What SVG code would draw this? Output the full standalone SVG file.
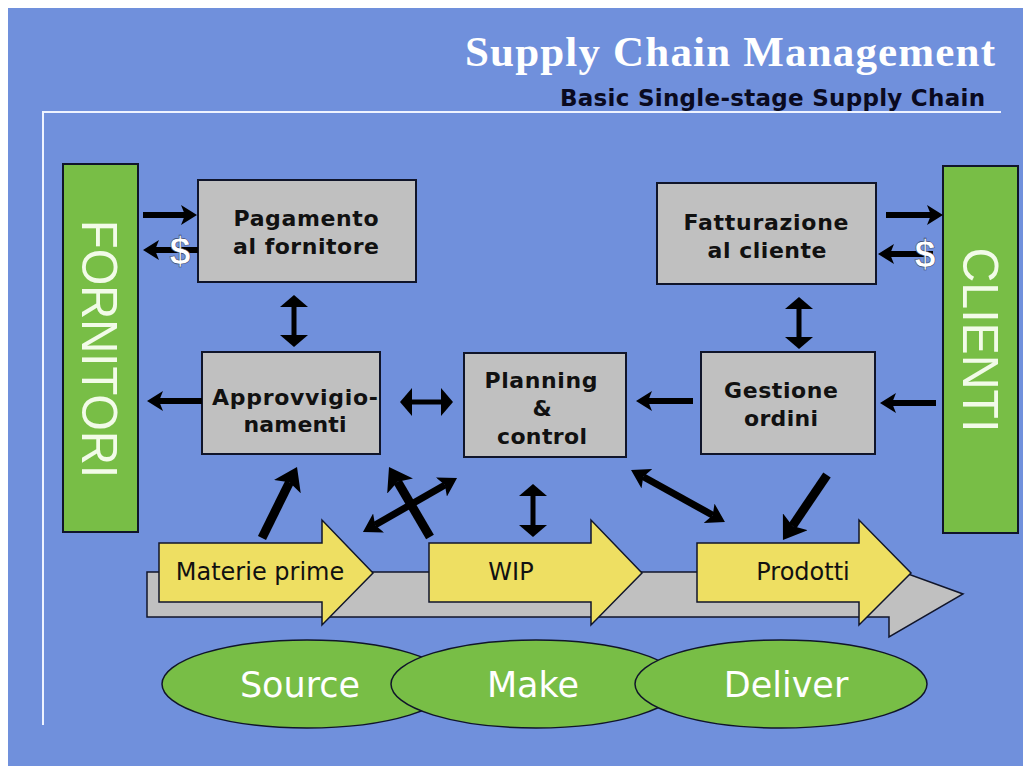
<svg xmlns="http://www.w3.org/2000/svg" width="1023" height="766" viewBox="0 0 1023 766">
  <style>
    .bg { fill: #7090dc; }
    .frame { stroke: #eef3ff; stroke-width: 2; fill: none; }
    .bar { fill: #78be46; stroke: #10152a; stroke-width: 2; }
    .bar-label { font-family: "Liberation Sans", Arial, sans-serif; font-size: 50px; fill: #f2fbe8; text-anchor: middle; }
    .box { fill: #c0c0c0; stroke: #10152a; stroke-width: 2; }
    .box-label { font-family: "DejaVu Sans", Verdana, sans-serif; font-weight: bold; font-size: 22px; fill: #111; text-anchor: middle; }
    .flow { fill: #eedf62; stroke: #10152a; stroke-width: 1.5; stroke-linejoin: miter; }
    .band { fill: #c0c0c0; stroke: #10152a; stroke-width: 1.5; }
    .flow-label { font-family: "DejaVu Sans", Verdana, sans-serif; font-size: 24px; fill: #111; text-anchor: middle; }
    .phase { fill: #78be46; stroke: #10152a; stroke-width: 1.5; }
    .phase-label { font-family: "DejaVu Sans", Verdana, sans-serif; font-size: 35px; fill: #ffffff; text-anchor: middle; }
    .title { font-family: "Liberation Serif", "Times New Roman", serif; font-weight: bold; font-size: 43px; fill: #ffffff; text-anchor: end; }
    .subtitle { font-family: "DejaVu Sans", Verdana, sans-serif; font-weight: bold; font-size: 23px; fill: #0a0a20; text-anchor: end; }
    .money { font-family: "Liberation Sans", Arial, sans-serif; font-weight: bold; font-size: 38px; fill: #ffffff; stroke: #30406a; stroke-width: 0.6; text-anchor: middle; }
    .ln { stroke: #000; fill: none; }
    .w5 { stroke-width: 5; }
    .w6 { stroke-width: 6; }
    .w7 { stroke-width: 7; }
    .w9 { stroke-width: 9; }
  </style>
  <defs>
    <!-- notched head for the standard horizontal flows -->
    <marker id="ah" markerUnits="userSpaceOnUse" viewBox="0 0 16 20" markerWidth="16" markerHeight="20" refX="4" refY="10" orient="auto-start-reverse">
      <path d="M0,0 L16,10 L0,20 L4,10 z" fill="#000"/>
    </marker>
    <!-- flat head for the short two-way links -->
    <marker id="av" markerUnits="userSpaceOnUse" viewBox="0 0 12 28" markerWidth="12" markerHeight="28" refX="1" refY="14" orient="auto-start-reverse">
      <path d="M0,0 L12,14 L0,28 z" fill="#000"/>
    </marker>
    <!-- large head for the heavy diagonal flows -->
    <marker id="ab" markerUnits="userSpaceOnUse" viewBox="0 0 22 30" markerWidth="22" markerHeight="30" refX="5" refY="15" orient="auto-start-reverse">
      <path d="M0,0 L22,15 L0,30 L5,15 z" fill="#000"/>
    </marker>
    <!-- medium head for the diagonal two-way links -->
    <marker id="ad" markerUnits="userSpaceOnUse" viewBox="0 0 18 22" markerWidth="18" markerHeight="22" refX="4" refY="11" orient="auto-start-reverse">
      <path d="M0,0 L18,11 L0,22 L4,11 z" fill="#000"/>
    </marker>
  </defs>

  <!-- background and frame -->
  <rect class="bg" x="8" y="8" width="1015" height="758"/>
  <path class="frame" d="M1001,112 H43 V725"/>

  <g id="header">
    <text class="title" x="995" y="66" textLength="530" lengthAdjust="spacing">Supply Chain Management</text>
    <text class="subtitle" x="985" y="106" textLength="425" lengthAdjust="spacing">Basic Single-stage Supply Chain</text>
  </g>

  <g id="fornitori">
    <rect class="bar" x="63" y="164" width="75" height="368"/>
    <text class="bar-label" transform="translate(82,349) rotate(90)" x="0" y="0" textLength="258" lengthAdjust="spacingAndGlyphs">FORNITORI</text>
  </g>

  <g id="clienti">
    <rect class="bar" x="943" y="166" width="75" height="367"/>
    <text class="bar-label" transform="translate(963,340) rotate(90)" x="0" y="0" textLength="185" lengthAdjust="spacingAndGlyphs">CLIENTI</text>
  </g>

  <g id="pagamento">
    <rect class="box" x="198" y="180" width="218" height="102"/>
    <text class="box-label" x="306" y="226" textLength="145" lengthAdjust="spacing">Pagamento</text>
    <text class="box-label" x="306" y="254" textLength="146" lengthAdjust="spacing">al fornitore</text>
  </g>

  <g id="fatturazione">
    <rect class="box" x="657" y="183" width="219" height="101"/>
    <text class="box-label" x="766" y="230" textLength="165" lengthAdjust="spacing">Fatturazione</text>
    <text class="box-label" x="767" y="258" textLength="119" lengthAdjust="spacing">al cliente</text>
  </g>

  <g id="approvvigionamenti">
    <rect class="box" x="202" y="352" width="178" height="102"/>
    <text class="box-label" x="295" y="405" textLength="166" lengthAdjust="spacing">Approvvigio-</text>
    <text class="box-label" x="295" y="432" textLength="103" lengthAdjust="spacing">namenti</text>
  </g>

  <g id="planning">
    <rect class="box" x="464" y="353" width="162" height="104"/>
    <text class="box-label" x="541" y="388" textLength="113" lengthAdjust="spacing">Planning</text>
    <text class="box-label" x="542" y="416">&amp;</text>
    <text class="box-label" x="542" y="444" textLength="90" lengthAdjust="spacing">control</text>
  </g>

  <g id="gestione">
    <rect class="box" x="701" y="352" width="174" height="102"/>
    <text class="box-label" x="781" y="398" textLength="114" lengthAdjust="spacing">Gestione</text>
    <text class="box-label" x="781" y="426" textLength="74" lengthAdjust="spacing">ordini</text>
  </g>

  <!-- material flow band -->
  <g id="flusso">
    <polygon class="band" points="147,572 889,572 889,567 963,594 889,637 889,617 147,617"/>
  </g>

  <g id="materie-prime">
    <polygon class="flow" points="159,543 322,543 322,520 373,573 322,625 322,602 159,602"/>
    <text class="flow-label" x="260" y="580">Materie prime</text>
  </g>

  <g id="wip">
    <polygon class="flow" points="429,543 591,543 591,520 642,573 591,625 591,602 429,602"/>
    <text class="flow-label" x="511" y="580">WIP</text>
  </g>

  <g id="prodotti">
    <polygon class="flow" points="697,543 859,543 859,520 911,573 859,625 859,602 697,602"/>
    <text class="flow-label" x="803" y="580">Prodotti</text>
  </g>

  <g id="connectors">
    <!-- supplier side -->
    <line class="ln w6" x1="143" y1="215" x2="185" y2="215" marker-end="url(#ah)"/>
    <line class="ln w6" x1="198" y1="250" x2="155" y2="250" marker-end="url(#ah)"/>
    <text class="money" x="180" y="264">$</text>
    <line class="ln w5" x1="294" y1="306" x2="294" y2="336" marker-start="url(#av)" marker-end="url(#av)"/>
    <line class="ln w6" x1="202" y1="401" x2="159" y2="401" marker-end="url(#ah)"/>
    <line class="ln w5" x1="411" y1="402" x2="442" y2="402" marker-start="url(#av)" marker-end="url(#av)"/>

    <!-- customer side -->
    <line class="ln w6" x1="886" y1="215" x2="931" y2="215" marker-end="url(#ah)"/>
    <line class="ln w6" x1="933" y1="254" x2="890" y2="254" marker-end="url(#ah)"/>
    <text class="money" x="925" y="267">$</text>
    <line class="ln w5" x1="799" y1="308" x2="799" y2="338" marker-start="url(#av)" marker-end="url(#av)"/>
    <line class="ln w6" x1="936" y1="403" x2="892" y2="403" marker-end="url(#ah)"/>
    <line class="ln w6" x1="693" y1="401" x2="648" y2="401" marker-end="url(#ah)"/>

    <!-- links to the material flow -->
    <line class="ln w9" x1="262" y1="538" x2="289.5" y2="482.2" marker-end="url(#ab)"/>
    <line class="ln w9" x1="430" y1="537" x2="397.6" y2="481.7" marker-end="url(#ab)"/>
    <line class="ln w7" x1="375.1" y1="525" x2="444.9" y2="485" marker-start="url(#ad)" marker-end="url(#ad)"/>
    <line class="ln w5" x1="533" y1="495" x2="533" y2="526" marker-start="url(#av)" marker-end="url(#av)"/>
    <line class="ln w7" x1="643.3" y1="476.8" x2="712.7" y2="515.2" marker-start="url(#ad)" marker-end="url(#ad)"/>
    <line class="ln w9" x1="827" y1="475" x2="792.5" y2="525.9" marker-end="url(#ab)"/>
  </g>

  <g id="source">
    <ellipse class="phase" cx="307" cy="684" rx="145" ry="44"/>
    <text class="phase-label" x="300" y="697">Source</text>
  </g>

  <g id="make">
    <ellipse class="phase" cx="536" cy="684" rx="145" ry="44"/>
    <text class="phase-label" x="533" y="697">Make</text>
  </g>

  <g id="deliver">
    <ellipse class="phase" cx="781" cy="684" rx="146" ry="44"/>
    <text class="phase-label" x="786" y="697">Deliver</text>
  </g>
</svg>
